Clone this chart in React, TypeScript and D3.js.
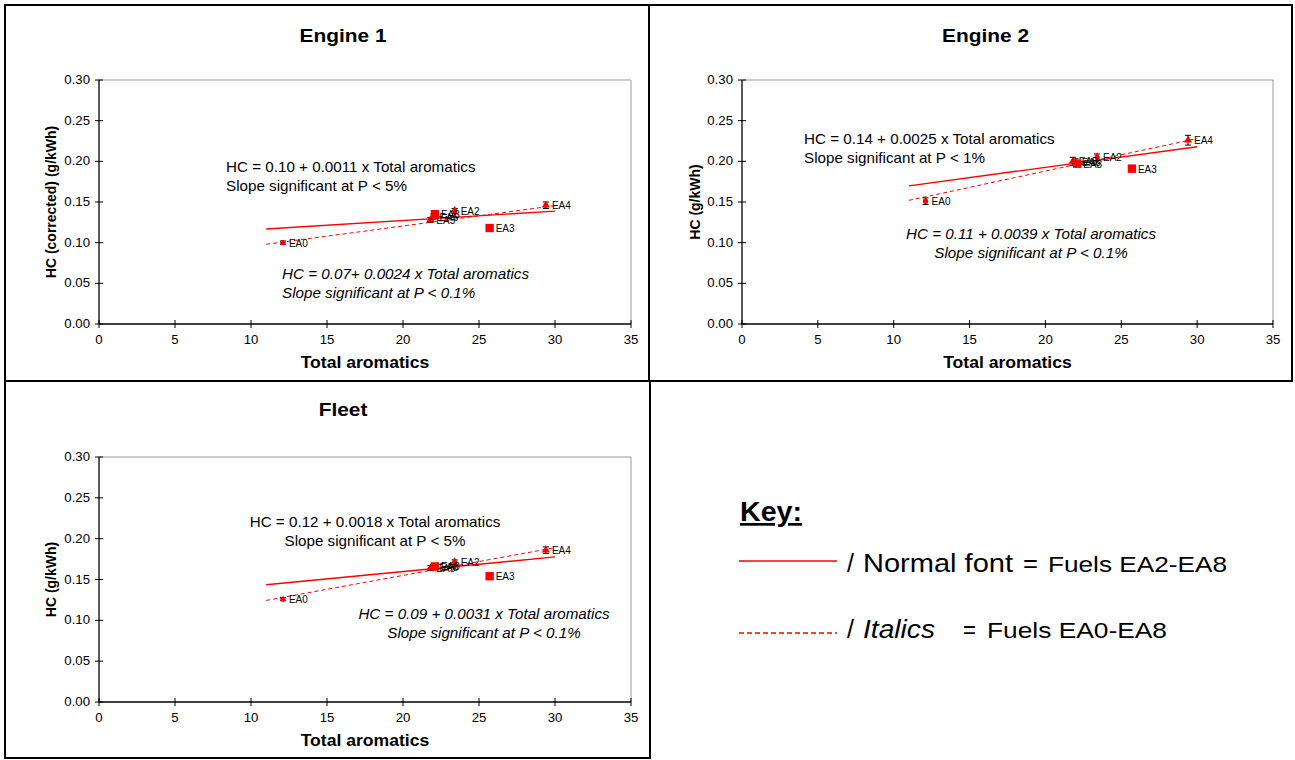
import React from "react";
import * as d3 from "d3";

const fuels = ["EA0", "EA2", "EA3", "EA4", "EA5", "EA6", "EA8"];
const aromatics = [12.1, 23.4, 25.7, 29.4, 21.8, 22.0, 22.1];
const engine1HC = [0.1, 0.139, 0.118, 0.146, 0.128, 0.132, 0.135];
const engine1Err = [0.002, 0.003, 0.002, 0.004, 0.003, 0.003, 0.003];
const engine2HC = [0.151, 0.205, 0.191, 0.226, 0.2, 0.199, 0.197];
const engine2Err = [0.004, 0.004, 0.004, 0.006, 0.005, 0.004, 0.003];
const fleetHC = [0.126, 0.171, 0.154, 0.186, 0.164, 0.165, 0.166];
const fleetErr = [0.002, 0.003, 0.002, 0.004, 0.003, 0.003, 0.003];

// regression lines: [intercept, slope]
const engine1Normal = [0.104, 0.00116];
const engine1Italic = [0.0705, 0.0025];
const engine2Normal = [0.142, 0.00253];
const engine2Italic = [0.108, 0.004];
const fleetNormal = [0.1237, 0.0018];
const fleetItalic = [0.087, 0.0034];
const fitRange = [11, 30];

const xTicks = [0, 5, 10, 15, 20, 25, 30, 35];
const yTicks = [0, 0.05, 0.1, 0.15, 0.2, 0.25, 0.3];

const FONT = "Arial, 'Liberation Sans', sans-serif";
const RED = "#ff0000";

const markerTypes: Record<string, any> = {
  EA0: { type: d3.symbolCircle, size: 22 },
  EA2: { type: d3.symbolDiamond, size: 30 },
  EA3: { type: d3.symbolSquare, size: 70 },
  EA4: { type: d3.symbolTriangle, size: 28 },
  EA5: { type: d3.symbolTriangle, size: 28 },
  EA6: { type: d3.symbolDiamond, size: 24 },
  EA8: { type: d3.symbolSquare, size: 70 },
};

function T(props: any) {
  const { x, y, sx = 1, anchor = "start", size, bold, italic, children, rotate } = props;
  const tr = `translate(${x},${y})${rotate ? ` rotate(${rotate})` : ""} scale(${sx},1)`;
  return (
    <text transform={tr} textAnchor={anchor} fontSize={size}
      fontWeight={bold ? "bold" : "normal"} fontStyle={italic ? "italic" : "normal"}>
      {children}
    </text>
  );
}

type Ann = { lines: string[]; x: number; y: number; anchor: string; italic: boolean };

function Panel(props: {
  left: number; right: number; top: number; bottom: number;
  title: string; titleY: number; yLabel: string; yLabelX: number;
  hc: number[]; err: number[]; normal: number[]; italic: number[];
  anns: Ann[];
}) {
  const { left, right, top, bottom, hc, err } = props;
  const x = d3.scaleLinear().domain([0, 35]).range([left, right]);
  const y = d3.scaleLinear().domain([0, 0.3]).range([bottom, top]);
  const mk = (p: number[]) =>
    d3.line<number>().x((d) => x(d)).y((d) => y(p[0] + p[1] * d))(fitRange) as string;
  const cx = (left + right) / 2;
  const cy = (top + bottom) / 2;
  return (
    <g fontFamily={FONT}>
      <T x={cx - 22} y={props.titleY} anchor="middle" size={18} bold sx={1.16}>{props.title}</T>
      {/* plot frame */}
      <line x1={left} x2={right} y1={top} y2={top} stroke="#9a9a9a" strokeWidth={1} />
      <line x1={right} x2={right} y1={top} y2={bottom} stroke="#9a9a9a" strokeWidth={1} />
      <line x1={left} x2={left} y1={top} y2={bottom} stroke="#000" strokeWidth={1.3} />
      <line x1={left} x2={right} y1={bottom} y2={bottom} stroke="#000" strokeWidth={1.3} />
      {yTicks.map((t) => (
        <g key={"y" + t}>
          <line x1={left - 4} x2={left + 4} y1={y(t)} y2={y(t)} stroke="#000" />
          <T x={left - 9} y={y(t) + 4} anchor="end" size={12} sx={1.1}>{d3.format(".2f")(t)}</T>
        </g>
      ))}
      {xTicks.map((t) => (
        <g key={"x" + t}>
          <line x1={x(t)} x2={x(t)} y1={bottom - 4} y2={bottom + 4} stroke="#000" />
          <T x={x(t)} y={bottom + 20} anchor="middle" size={12} sx={1.1}>{t}</T>
        </g>
      ))}
      <T x={cx} y={bottom + 44} anchor="middle" size={16} bold sx={1.1}>Total aromatics</T>
      <T x={props.yLabelX} y={cy} rotate={-90} anchor="middle" size={14} bold>{props.yLabel}</T>
      {/* fits */}
      <path d={mk(props.normal)} stroke={RED} strokeWidth={1.4} fill="none" />
      <path d={mk(props.italic)} stroke={RED} strokeWidth={1} strokeDasharray="4,3" fill="none" />
      {/* points */}
      {fuels.map((f, i) => {
        const px = x(aromatics[i]);
        const py = y(hc[i]);
        const m = markerTypes[f];
        const lo = y(hc[i] - err[i]);
        const hi = y(hc[i] + err[i]);
        return (
          <g key={f}>
            <line x1={px} x2={px} y1={lo} y2={hi} stroke="#000" strokeWidth={1} />
            <line x1={px - 3} x2={px + 3} y1={lo} y2={lo} stroke="#000" />
            <line x1={px - 3} x2={px + 3} y1={hi} y2={hi} stroke="#000" />
            <path d={d3.symbol().type(m.type).size(m.size)() as string} transform={`translate(${px},${py})`} fill={RED} />
            <text x={px + 6} y={py + 4} fontSize={10}>{f}</text>
          </g>
        );
      })}
      {props.anns.map((a, k) => (
        <g key={k}>
          {a.lines.map((l, j) => (
            <T key={j} x={a.x} y={a.y + j * 19} anchor={a.anchor} size={14} sx={1.086} italic={a.italic}>{l}</T>
          ))}
        </g>
      ))}
    </g>
  );
}

export default function App() {
  return (
    <svg width={1295} height={760} style={{ position: "absolute", left: 0, top: 0, background: "#fff" }}>
      <rect x={0} y={0} width={1295} height={760} fill="#fff" />
      {/* frames */}
      <rect x={5} y={5} width={644} height={376} fill="none" stroke="#000" strokeWidth={2} />
      <rect x={649} y={5} width={643} height={376} fill="none" stroke="#000" strokeWidth={2} />
      <rect x={5} y={381} width={645} height={377} fill="none" stroke="#000" strokeWidth={2} />

      <Panel left={99} right={631} top={80} bottom={324} title="Engine 1" titleY={42}
        yLabel="HC (corrected) (g/kWh)" yLabelX={56}
        hc={engine1HC} err={engine1Err} normal={engine1Normal} italic={engine1Italic}
        anns={[
          { lines: ["HC = 0.10 + 0.0011 x Total aromatics", "Slope significant at P < 5%"], x: 226, y: 172, anchor: "start", italic: false },
          { lines: ["HC = 0.07+ 0.0024 x Total aromatics", "Slope significant at P < 0.1%"], x: 282, y: 279, anchor: "start", italic: true },
        ]} />
      <Panel left={742} right={1273} top={80} bottom={324} title="Engine 2" titleY={42}
        yLabel="HC (g/kWh)" yLabelX={700}
        hc={engine2HC} err={engine2Err} normal={engine2Normal} italic={engine2Italic}
        anns={[
          { lines: ["HC = 0.14 + 0.0025 x Total aromatics", "Slope significant at P < 1%"], x: 804, y: 144, anchor: "start", italic: false },
          { lines: ["HC = 0.11 + 0.0039 x Total aromatics", "Slope significant at P < 0.1%"], x: 1031, y: 239, anchor: "middle", italic: true },
        ]} />
      <Panel left={99} right={631} top={457} bottom={702} title="Fleet" titleY={416}
        yLabel="HC (g/kWh)" yLabelX={56}
        hc={fleetHC} err={fleetErr} normal={fleetNormal} italic={fleetItalic}
        anns={[
          { lines: ["HC = 0.12 + 0.0018 x Total aromatics", "Slope significant at P < 5%"], x: 375, y: 527, anchor: "middle", italic: false },
          { lines: ["HC = 0.09 + 0.0031 x Total aromatics", "Slope significant at P < 0.1%"], x: 484, y: 619, anchor: "middle", italic: true },
        ]} />

      {/* Key */}
      <g fontFamily={FONT}>
        <text x={740} y={521} fontSize={27} fontWeight="bold" textDecoration="underline" textLength={62} lengthAdjust="spacingAndGlyphs">Key:</text>
        <line x1={739} x2={837} y1={561} y2={561} stroke={RED} strokeWidth={1.5} />
        <text x={847} y={572} fontSize={25}>/</text>
        <text x={863} y={572} fontSize={25} textLength={150} lengthAdjust="spacingAndGlyphs">Normal font</text>
        <text x={1023} y={572} fontSize={25} textLength={15} lengthAdjust="spacingAndGlyphs">=</text>
        <text x={1048} y={572} fontSize={22.5} textLength={179} lengthAdjust="spacingAndGlyphs">Fuels EA2-EA8</text>
        <line x1={739} x2={837} y1={633} y2={633} stroke={RED} strokeWidth={1.5} strokeDasharray="5,3" />
        <text x={847} y={638} fontSize={25}>/</text>
        <text x={863} y={638} fontSize={25} fontStyle="italic" textLength={72} lengthAdjust="spacingAndGlyphs">Italics</text>
        <text x={963} y={638} fontSize={25} textLength={13} lengthAdjust="spacingAndGlyphs">=</text>
        <text x={987} y={638} fontSize={22.5} textLength={180} lengthAdjust="spacingAndGlyphs">Fuels EA0-EA8</text>
      </g>
    </svg>
  );
}
